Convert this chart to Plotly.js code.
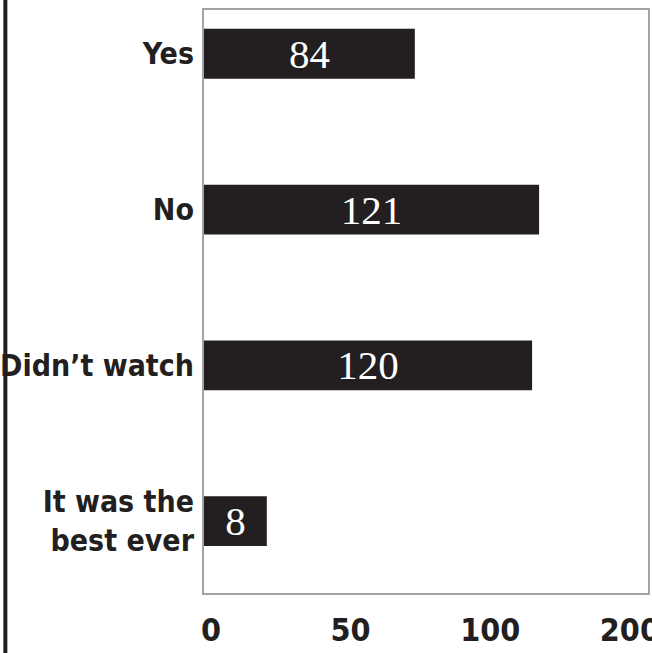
<!DOCTYPE html>
<html>
<head>
<meta charset="utf-8">
<script src="https://cdn.plot.ly/plotly-3.0.1.min.js"></script>
<style>html,body{margin:0;padding:0;background:#fff;}#chart{width:652px;height:653px;}</style>
</head>
<body>
<div id="chart"></div>
<script>
// Categories (top to bottom)
const categories = ["Yes", "No", "Didn’t watch", "It was the<br>best ever"];
// Bar lengths
const barValues = [75.5, 120, 117.5, 22.5];
// Numbers printed on the bars
const barLabels = ["84", "121", "120", "8"];
// X-axis ticks as printed
const xTickVals = [0, 50, 100, 150];
const xTickText = ["0", "50", "100", "200"];

const ink = "#231f20";
const condensed = "'Liberation Sans Narrow', 'DejaVu Sans Condensed', 'Arial Narrow', sans-serif";

const trace = {
  type: "bar",
  orientation: "h",
  y: categories,
  x: barValues,
  text: barLabels,
  textposition: "inside",
  insidetextanchor: "middle",
  textangle: 0,
  constraintext: "none",
  textfont: {family: "'Liberation Serif', 'Times New Roman', serif", size: 41, color: "#ffffff"},
  marker: {color: ink, line: {width: 0}},
  width: 0.32,
  hoverinfo: "none",
  cliponaxis: false
};

const layout = {
  width: 652,
  height: 653,
  margin: {l: 204, r: 4, t: 10, b: 60},
  paper_bgcolor: "#ffffff",
  plot_bgcolor: "#ffffff",
  showlegend: false,
  xaxis: {
    range: [0, 159],
    tickvals: xTickVals,
    ticktext: xTickText,
    showgrid: false,
    zeroline: false,
    showline: true,
    mirror: true,
    linecolor: "#a3a3a3",
    linewidth: 2,
    ticks: "",
    ticklabelstandoff: 8,
    ticklabelshift: 7,
    ticklabeloverflow: "allow",
    tickfont: {family: condensed, size: 32, color: ink, weight: "bold"},
    fixedrange: true
  },
  yaxis: {
    type: "category",
    range: [3.461, -0.281],
    showgrid: false,
    zeroline: false,
    showline: true,
    mirror: true,
    linecolor: "#a3a3a3",
    linewidth: 2,
    ticks: "outside",
    ticklen: 2,
    tickcolor: "rgba(0,0,0,0)",
    tickfont: {family: condensed, size: 30, color: ink, weight: "bold"},
    fixedrange: true
  },
  shapes: [{
    type: "line", xref: "paper", yref: "paper",
    x0: -0.4474, x1: -0.4474, y0: -0.2, y1: 1.05,
    line: {color: ink, width: 4}
  }]
};

Plotly.newPlot("chart", [trace], layout, {displayModeBar: false, staticPlot: true});
</script>
</body>
</html>
